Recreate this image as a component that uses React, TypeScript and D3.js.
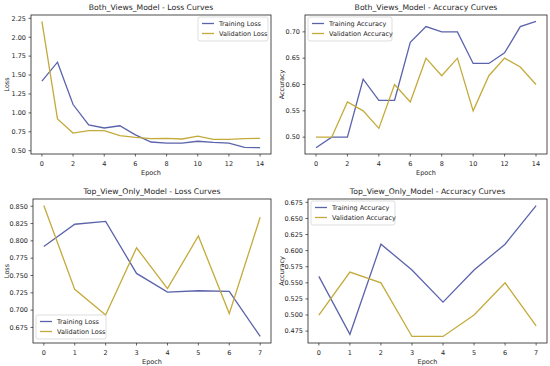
import React from "react";
import * as d3 from "d3";

const bothEpochs = d3.range(0, 15);
const topEpochs = d3.range(0, 8);

const bothTrainLoss = [1.42, 1.67, 1.11, 0.84, 0.8, 0.83, 0.71, 0.615, 0.6, 0.6, 0.625, 0.61, 0.6, 0.545, 0.54];
const bothValLoss = [2.21, 0.92, 0.733, 0.765, 0.765, 0.7, 0.677, 0.66, 0.664, 0.655, 0.692, 0.65, 0.65, 0.66, 0.664];
const bothTrainAcc = [0.48, 0.5, 0.5, 0.61, 0.57, 0.57, 0.68, 0.71, 0.7, 0.7, 0.64, 0.64, 0.66, 0.71, 0.72];
const bothValAcc = [0.5, 0.5, 0.5667, 0.55, 0.5167, 0.6, 0.5667, 0.65, 0.6167, 0.65, 0.55, 0.6167, 0.65, 0.6333, 0.6];

const topTrainLoss = [0.792, 0.824, 0.828, 0.753, 0.726, 0.728, 0.727, 0.662];
const topValLoss = [0.851, 0.73, 0.693, 0.79, 0.731, 0.807, 0.695, 0.834];
const topTrainAcc = [0.56, 0.47, 0.61, 0.57, 0.52, 0.57, 0.61, 0.67];
const topValAcc = [0.5, 0.5667, 0.55, 0.4667, 0.4667, 0.5, 0.55, 0.4833];

const lossTicksBoth = [0.5, 0.75, 1.0, 1.25, 1.5, 1.75, 2.0, 2.25];
const accTicksBoth = [0.5, 0.55, 0.6, 0.65, 0.7];
const lossTicksTop = [0.675, 0.7, 0.725, 0.75, 0.775, 0.8, 0.825, 0.85];
const accTicksTop = [0.475, 0.5, 0.525, 0.55, 0.575, 0.6, 0.625, 0.65, 0.675];
const xTicksBoth = [0, 2, 4, 6, 8, 10, 12, 14];
const xTicksTop = [0, 1, 2, 3, 4, 5, 6, 7];

const TRAIN = "#5b63ab";
const VAL = "#c4aa3a";
const FONT = "DejaVu Sans, sans-serif";
const TXT = "#262626";

type PanelProps = {
  left: number; top: number; right: number; bottom: number;
  title: string; ylabel: string; ylabelX: number;
  epochs: number[]; train: number[]; val: number[];
  trainLabel: string; valLabel: string;
  yTicks: number[]; yDec: number; xTicks: number[];
  legend: "ur" | "ul" | "ll";
  legendW: number;
};

function Panel(p: PanelProps) {
  const xmin = d3.min(p.epochs)!, xmax = d3.max(p.epochs)!;
  const xm = (xmax - xmin) * 0.05;
  const all = [...p.train, ...p.val];
  const ymin = d3.min(all)!, ymax = d3.max(all)!;
  const ym = (ymax - ymin) * 0.05;
  const x = d3.scaleLinear().domain([xmin - xm, xmax + xm]).range([p.left, p.right]);
  const y = d3.scaleLinear().domain([ymin - ym, ymax + ym]).range([p.bottom, p.top]);
  const line = d3.line<number>().x((_, i) => x(p.epochs[i])).y((d) => y(d));
  const fmt = d3.format(`.${p.yDec}f`);
  const lw = p.legendW, lh = 24;
  let lx = 0, ly = 0;
  if (p.legend === "ur") { lx = p.right - lw - 3; ly = p.top + 2; }
  if (p.legend === "ul") { lx = p.left + 3; ly = p.top + 2; }
  if (p.legend === "ll") { lx = p.left + 3; ly = p.bottom - lh - 4; }
  const cx = (p.left + p.right) / 2, cy = (p.top + p.bottom) / 2;
  return (
    <g>
      <text x={cx} y={p.top - 5} textAnchor="middle" fontSize={7.7} fill={TXT} fontFamily={FONT}>{p.title}</text>
      <path d={line(p.train)!} fill="none" stroke={TRAIN} strokeWidth={1.3} />
      <path d={line(p.val)!} fill="none" stroke={VAL} strokeWidth={1.3} />
      <rect x={p.left} y={p.top} width={p.right - p.left} height={p.bottom - p.top} fill="none" stroke="#222" strokeWidth={0.8} />
      {p.yTicks.map((t) => (
        <g key={"y" + t}>
          <line x1={p.left - 2.5} x2={p.left} y1={y(t)} y2={y(t)} stroke="#222" strokeWidth={0.7} />
          <text x={p.left - 5} y={y(t) + 2.3} textAnchor="end" fontSize={6.5} fill={TXT} fontFamily={FONT}>{fmt(t)}</text>
        </g>
      ))}
      {p.xTicks.map((t) => (
        <g key={"x" + t}>
          <line x1={x(t)} x2={x(t)} y1={p.bottom} y2={p.bottom + 2.5} stroke="#222" strokeWidth={0.7} />
          <text x={x(t)} y={p.bottom + 11.5} textAnchor="middle" fontSize={6.5} fill={TXT} fontFamily={FONT}>{t}</text>
        </g>
      ))}
      <text x={cx} y={p.bottom + 21} textAnchor="middle" fontSize={6.5} fill={TXT} fontFamily={FONT}>Epoch</text>
      <text transform={`translate(${p.ylabelX},${cy}) rotate(-90)`} textAnchor="middle" fontSize={6.5} fill={TXT} fontFamily={FONT}>{p.ylabel}</text>
      <g transform={`translate(${lx},${ly})`}>
        <rect x={0} y={0} width={lw} height={lh} rx={2} fill="white" fillOpacity={0.85} stroke="#d0d0d0" strokeWidth={0.7} />
        <line x1={4} x2={16} y1={6.5} y2={6.5} stroke={TRAIN} strokeWidth={1.3} />
        <text x={21} y={8.8} fontSize={6.5} fill={TXT} fontFamily={FONT}>{p.trainLabel}</text>
        <line x1={4} x2={16} y1={16.5} y2={16.5} stroke={VAL} strokeWidth={1.3} />
        <text x={21} y={18.8} fontSize={6.5} fill={TXT} fontFamily={FONT}>{p.valLabel}</text>
      </g>
    </g>
  );
}

export default function App() {
  return (
    <svg width={550} height={366} style={{ position: "absolute", left: 0, top: 0, background: "white" }}>
      <rect width={550} height={366} fill="white" />
      <Panel left={31} top={15} right={271} bottom={154} title="Both_Views_Model - Loss Curves" ylabel="Loss" ylabelX={8.5}
        epochs={bothEpochs} train={bothTrainLoss} val={bothValLoss} trainLabel="Training Loss" valLabel="Validation Loss"
        yTicks={lossTicksBoth} yDec={2} xTicks={xTicksBoth} legend="ur" legendW={70} />
      <Panel left={305} top={15} right={547} bottom={154} title="Both_Views_Model - Accuracy Curves" ylabel="Accuracy" ylabelX={283.5}
        epochs={bothEpochs} train={bothTrainAcc} val={bothValAcc} trainLabel="Training Accuracy" valLabel="Validation Accuracy"
        yTicks={accTicksBoth} yDec={2} xTicks={xTicksBoth} legend="ul" legendW={84} />
      <Panel left={33} top={199} right={271} bottom={343} title="Top_View_Only_Model - Loss Curves" ylabel="Loss" ylabelX={8.5}
        epochs={topEpochs} train={topTrainLoss} val={topValLoss} trainLabel="Training Loss" valLabel="Validation Loss"
        yTicks={lossTicksTop} yDec={3} xTicks={xTicksTop} legend="ll" legendW={70} />
      <Panel left={308} top={199} right={547} bottom={343} title="Top_View_Only_Model - Accuracy Curves" ylabel="Accuracy" ylabelX={283.5}
        epochs={topEpochs} train={topTrainAcc} val={topValAcc} trainLabel="Training Accuracy" valLabel="Validation Accuracy"
        yTicks={accTicksTop} yDec={3} xTicks={xTicksTop} legend="ul" legendW={84} />
    </svg>
  );
}
